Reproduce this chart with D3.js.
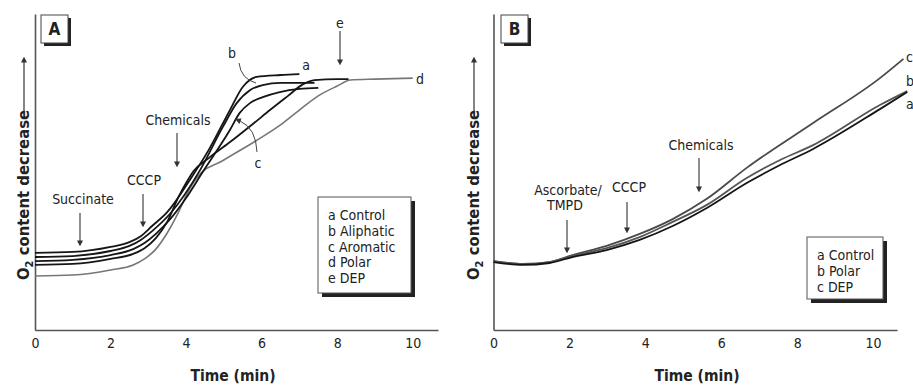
<!DOCTYPE html>
<html>
<head>
<meta charset="utf-8">
<style>
	body { margin: 0; background: #fff; }
	svg text { font-family: 'DejaVu Sans Condensed', 'Liberation Sans Narrow', 'DejaVu Sans', sans-serif; font-stretch: condensed; fill: #222; }
</style>
</head>
<body>
<script src="https://cdn.jsdelivr.net/npm/d3@7/dist/d3.min.js"></script>
<script>

	// *** DATA ***

	// Panel A: time (min) and O2 content decrease (arbitrary units, 0-100)
	var timeA_a = [0, 1, 2, 2.5, 2.8, 3.1, 3.5, 4.1, 4.6, 5.16, 5.5, 5.87, 6.5, 7.0];
	var o2A_a   = [24.4, 24.7, 26.3, 27.8, 29.7, 32.9, 37.3, 47.5, 57.0, 69.6, 76.9, 80.1, 80.7, 81.0];
	var timeA_b = [0, 1, 2, 2.5, 2.8, 3.1, 3.57, 4.37, 4.97, 5.34, 5.69, 6.03, 6.5, 7.4];
	var o2A_b   = [23.1, 23.4, 25.0, 26.6, 28.5, 31.3, 36.7, 50.6, 64.2, 71.8, 75.9, 77.5, 78.2, 78.2];
	var timeA_c = [0, 1, 2, 2.6, 2.9, 3.2, 3.6, 4.0, 4.44, 5.16, 5.42, 5.69, 6.03, 6.48, 7.0, 7.5];
	var o2A_c   = [21.8, 22.2, 23.7, 25.6, 27.5, 30.4, 35.4, 41.8, 50.0, 63.3, 68.7, 71.8, 73.7, 75.3, 76.3, 76.6];
	var timeA_d = [0, 1, 2, 2.6, 2.9, 3.2, 3.5, 3.8, 4.05, 4.3, 5.0, 5.8, 6.5, 7.0, 7.5, 8.0, 8.35, 9.0, 10.0];
	var o2A_d   = [17.1, 17.4, 19.0, 20.6, 22.5, 25.6, 30.7, 37.3, 43.7, 48.4, 53.8, 59.5, 64.9, 69.6, 74.1, 77.2, 79.1, 79.4, 79.7];
	var timeA_e = [0, 1, 2, 2.6, 2.9, 3.2, 3.5, 3.8, 4.0, 4.2, 4.6, 5.2, 5.8, 6.22, 6.7, 7.1, 7.4, 8.0, 8.3];
	var o2A_e   = [20.6, 20.9, 22.5, 24.1, 25.9, 29.1, 34.2, 42.1, 46.5, 50.3, 54.4, 59.8, 65.5, 69.6, 74.1, 77.8, 79.1, 79.4, 79.4];

	// Panel B
	var timeB   = [0, 0.77, 1.48, 2.08, 2.98, 3.85, 4.72, 5.62, 6.67, 7.55, 8.42, 10.18, 10.9];
	var o2B_a   = [21.5, 20.6, 21.2, 23.1, 25.3, 28.5, 32.9, 38.6, 46.5, 52.2, 57.3, 69.9, 75.3];
	var o2B_b   = [21.8, 20.9, 21.5, 23.4, 25.9, 29.4, 34.2, 39.6, 48.1, 53.8, 58.5, 71.2, 75.6];
	var timeB_c = [0, 0.77, 1.48, 2.08, 2.98, 3.85, 4.72, 5.62, 6.67, 8.42, 10.18, 10.8];
	var o2B_c   = [21.8, 20.9, 21.5, 23.7, 26.6, 30.4, 35.1, 41.5, 51.3, 65.5, 79.7, 85.8];

	var xTicks = [0, 2, 4, 6, 8, 10];
	var legendA = ['a Control', 'b Aliphatic', 'c Aromatic', 'd Polar', 'e DEP'];
	var legendB = ['a Control', 'b Polar', 'c DEP'];

	// *** HELPERS ***

	function zipSeries(t, v){
		return t.map(function(d, i){ return {t: d, v: v[i]}; });
	}

	function addArrow(g, x, y1, y2){
		g.append('line')
			.attr('x1', x).attr('y1', y1)
			.attr('x2', x).attr('y2', y2 - 5)
			.style('stroke', '#444').style('stroke-width', 1.2)
			.attr('marker-end', 'url(#tip)');
	}

	function addText(g, x, y, txt, size, anchor){
		return g.append('text')
			.attr('x', x).attr('y', y)
			.style('font-size', (size || 14) + 'px')
			.style('text-anchor', anchor || 'middle')
			.text(txt);
	}

	// FUNCTION: draw one panel frame (axes, labels, legend, letter box)
	function drawPanel(svg, o){
		var x = d3.scaleLinear().domain([0, o.xMax]).range([o.x0, o.x1]);
		var y = d3.scaleLinear().domain([0, 100]).range([330, 14]);

		var g = svg.append('g');

		// x axis
		var ax = g.append('g')
			.attr('transform', 'translate(0,330)')
			.call(d3.axisBottom(x).tickValues(xTicks).tickSizeInner(0).tickSizeOuter(0).tickPadding(8));
		ax.select('.domain').style('stroke', '#555').style('stroke-width', 1.6);
		ax.selectAll('text').style('font-size', '14px').style('font-family', null).attr('fill', '#222');

		// y axis (no ticks)
		var ay = g.append('g')
			.attr('transform', 'translate(' + o.x0 + ',0)')
			.call(d3.axisLeft(y).tickValues([]).tickSizeOuter(0));
		ay.select('.domain').style('stroke', '#555').style('stroke-width', 1.6);

		// x title
		addText(g, o.titleX, 381, 'Time (min)', 15.5).style('font-weight', 'bold');

		// y title
		var yl = g.append('text')
			.attr('transform', 'translate(' + o.yLabX + ',280) rotate(-90)')
			.style('font-size', '16.5px').style('font-weight', 'bold')
			.style('text-anchor', 'start');
		yl.append('tspan').text('O');
		yl.append('tspan').attr('dy', 4).style('font-size', '11px').text('2');
		yl.append('tspan').attr('dy', -4).text(' content decrease');
		g.append('line')
			.attr('x1', o.yLabX - 5).attr('y1', 111)
			.attr('x2', o.yLabX - 5).attr('y2', 62)
			.style('stroke', '#333').style('stroke-width', 1.2)
			.attr('marker-end', 'url(#tip)');

		// letter box
		g.append('rect').attr('x', o.boxX + 3).attr('y', 18).attr('width', 27).attr('height', 28).style('fill', '#222');
		g.append('rect').attr('x', o.boxX).attr('y', 15).attr('width', 27).attr('height', 28)
			.style('fill', '#fff').style('stroke', '#444').style('stroke-width', 1);
		addText(g, o.boxX + 13.5, 35, o.letter, 17).style('font-weight', 'bold');

		// legend
		var L = o.legend;
		g.append('rect').attr('x', L.x + 4).attr('y', L.y + 4).attr('width', L.w).attr('height', L.h).style('fill', '#222');
		g.append('rect').attr('x', L.x).attr('y', L.y).attr('width', L.w).attr('height', L.h)
			.style('fill', '#fff').style('stroke', '#555').style('stroke-width', 1);
		g.selectAll('.leg').data(L.items).enter().append('text')
			.attr('x', L.x + 10)
			.attr('y', function(d, i){ return L.ty + i * 15.8; })
			.attr('dy', '0.35em')
			.style('font-size', '14px')
			.text(function(d){ return d; });

		return {g: g, x: x, y: y};
	}

	function drawCurve(p, data, color, width){
		var line = d3.line()
			.x(function(d){ return p.x(d.t); })
			.y(function(d){ return p.y(d.v); })
			.curve(d3.curveMonotoneX);
		p.g.append('path')
			.datum(data)
			.attr('d', line)
			.style('fill', 'none')
			.style('stroke', color)
			.style('stroke-width', width || 1.8)
			.style('stroke-linejoin', 'round');
	}

	// *** CODE ***

	var svg = d3.select('body').append('svg')
		.attr('width', 913).attr('height', 386);

	svg.append('defs').append('marker')
		.attr('id', 'tip')
		.attr('viewBox', '0 0 10 10')
		.attr('refX', 1).attr('refY', 5)
		.attr('markerWidth', 6).attr('markerHeight', 6)
		.attr('markerUnits', 'userSpaceOnUse')
		.attr('orient', 'auto')
		.append('path').attr('d', 'M0,0 L10,5 L0,10 z').style('fill', '#333');

	// PANEL A
	var pA = drawPanel(svg, {
		xMax: 10.67, x0: 35, x1: 438, titleX: 233, yLabX: 29, boxX: 41, letter: 'A',
		legend: {x: 318, y: 197, w: 93, h: 96, ty: 215, items: legendA}
	});

	drawCurve(pA, zipSeries(timeA_d, o2A_d), '#777', 1.6);
	drawCurve(pA, zipSeries(timeA_e, o2A_e), '#151515');
	drawCurve(pA, zipSeries(timeA_c, o2A_c), '#151515');
	drawCurve(pA, zipSeries(timeA_b, o2A_b), '#151515');
	drawCurve(pA, zipSeries(timeA_a, o2A_a), '#151515');

	addText(pA.g, 83, 204, 'Succinate');
	addArrow(pA.g, 80, 213, 246);
	addText(pA.g, 144, 185, 'CCCP');
	addArrow(pA.g, 143, 194, 227);
	addText(pA.g, 178, 125, 'Chemicals');
	addArrow(pA.g, 177, 133, 167);
	addText(pA.g, 340, 28, 'e');
	addArrow(pA.g, 340, 31, 65);
	addText(pA.g, 232, 58, 'b');
	addText(pA.g, 306, 70, 'a');
	addText(pA.g, 420, 84, 'd');
	addText(pA.g, 258, 168, 'c');

	// curved leaders for b and c
	pA.g.append('path').attr('d', 'M239,63 Q241,79 256,83')
		.style('fill', 'none').style('stroke', '#444').style('stroke-width', 1);
	pA.g.append('path').attr('d', 'M257,152 Q256,128 240,121')
		.style('fill', 'none').style('stroke', '#444').style('stroke-width', 1)
		.attr('marker-end', 'url(#tip)');

	// PANEL B
	var pB = drawPanel(svg, {
		xMax: 10.63, x0: 493.5, x1: 897, titleX: 697, yLabX: 479, boxX: 501, letter: 'B',
		legend: {x: 807, y: 237, w: 76, h: 62, ty: 255, items: legendB}
	});

	drawCurve(pB, zipSeries(timeB_c, o2B_c), '#4a4a4a');
	drawCurve(pB, zipSeries(timeB, o2B_b), '#555');
	drawCurve(pB, zipSeries(timeB, o2B_a), '#151515');

	addText(pB.g, 568, 195, 'Ascorbate/');
	addText(pB.g, 565, 210, 'TMPD');
	addArrow(pB.g, 567, 220, 253);
	addText(pB.g, 629, 192, 'CCCP');
	addArrow(pB.g, 627, 202, 233);
	addText(pB.g, 701, 150, 'Chemicals');
	addArrow(pB.g, 699, 158, 192);
	addText(pB.g, 906, 62, 'c', 14, 'start');
	addText(pB.g, 906, 86, 'b', 14, 'start');
	addText(pB.g, 906, 109, 'a', 14, 'start');

</script>
</body>
</html>
